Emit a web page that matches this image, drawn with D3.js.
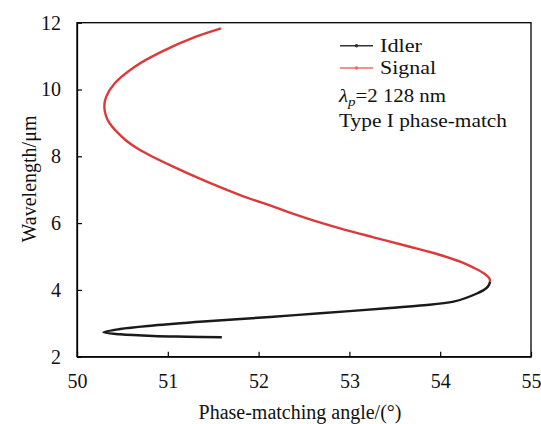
<!DOCTYPE html>
<html>
<head>
<meta charset="utf-8">
<script src="https://cdn.jsdelivr.net/npm/d3@7"></script>
<style>
  body { margin: 0; background: #fff; }
  svg text { font-family: "Liberation Serif", "Times New Roman", serif; }
</style>
</head>
<body>
<svg id="chart" width="541" height="424"></svg>
<script>
// Idler branch, from the degenerate point down to the short end
const idlerAngle = [54.550, 54.537, 54.510, 54.404, 54.147, 53.780, 53.413, 52.678, 52.127, 51.392, 50.841, 50.474, 50.290, 50.474, 50.841, 51.209, 51.595];
const idlerWave  = [4.256, 4.150, 4.057, 3.892, 3.647, 3.533, 3.449, 3.299, 3.189, 3.054, 2.934, 2.829, 2.731, 2.671, 2.620, 2.599, 2.581];

// Signal branch, from the degenerate point up to the long end
const signalAngle = [54.550, 54.540, 54.480, 54.367, 54.220, 54.000, 53.633, 53.265, 52.898, 52.531, 52.163, 51.796, 51.429, 51.059, 50.694, 50.534, 50.359, 50.320, 50.301, 50.320, 50.416, 50.637, 50.933, 51.310, 51.587];
const signalWave  = [4.256, 4.350, 4.497, 4.665, 4.844, 5.045, 5.314, 5.575, 5.844, 6.144, 6.491, 6.841, 7.240, 7.689, 8.189, 8.488, 8.988, 9.200, 9.485, 9.770, 10.186, 10.683, 11.132, 11.581, 11.832];

const xTicks = [50, 51, 52, 53, 54, 55];
const yTicks = [2, 4, 6, 8, 10, 12];

const margin = { top: 22.7, left: 77 };
const width = 531 - margin.left;
const height = 356.7 - margin.top;

const svg = d3.select("#chart");
const g = svg.append("g").attr("transform", `translate(${margin.left},${margin.top})`);

const x = d3.scaleLinear().domain([50, 55]).range([0, width]);
const y = d3.scaleLinear().domain([2, 12]).range([height, 0]);

// frame
g.append("rect")
    .attr("width", width).attr("height", height)
    .attr("fill", "none").attr("stroke", "#000").attr("stroke-width", 1.3);

// axes with inward ticks
const xAxis = g.append("g")
    .attr("transform", `translate(0,${height})`)
    .call(d3.axisBottom(x).tickValues(xTicks).tickFormat(d3.format("d"))
        .tickSizeInner(-5).tickSizeOuter(0).tickPadding(13));
const yAxis = g.append("g")
    .call(d3.axisLeft(y).tickValues(yTicks).tickFormat(d3.format("d"))
        .tickSizeInner(-5).tickSizeOuter(0).tickPadding(16));

[xAxis, yAxis].forEach(a => {
    a.attr("font-family", "Liberation Serif, serif").attr("font-size", 20);
    a.select(".domain").attr("stroke", "#000").attr("stroke-width", 1.3);
    a.selectAll(".tick line").attr("stroke", "#000").attr("stroke-width", 1.2);
    a.selectAll(".tick text").attr("fill", "#111");
});
xAxis.selectAll(".tick text").attr("dy", "0.9em");

// curves
const line = d3.line()
    .x(d => x(d[0]))
    .y(d => y(d[1]))
    .curve(d3.curveCatmullRom.alpha(0.5));

const idler = idlerAngle.map((a, i) => [a, idlerWave[i]]);
const signal = signalAngle.map((a, i) => [a, signalWave[i]]);

g.append("path").datum(idler)
    .attr("d", line)
    .attr("fill", "none").attr("stroke", "#1a1a1a").attr("stroke-width", 2.4);
g.append("path").datum(signal)
    .attr("d", line)
    .attr("fill", "none").attr("stroke", "#dc3a3a").attr("stroke-width", 2.4);

// legend
const legend = svg.append("g").style("font-size", "18px").attr("fill", "#111");
const items = [
    { name: "Idler", color: "#333", y: 45.7, w: 42 },
    { name: "Signal", color: "#ef6b6b", y: 68, w: 56 }
];
items.forEach(d => {
    legend.append("line")
        .attr("x1", 340).attr("x2", 373).attr("y1", d.y).attr("y2", d.y)
        .attr("stroke", d.color).attr("stroke-width", 1.6);
    legend.append("circle")
        .attr("cx", 356.5).attr("cy", d.y).attr("r", 1.8).attr("fill", d.color);
    legend.append("text").attr("x", 380).attr("y", d.y + 6)
        .attr("textLength", d.w).attr("lengthAdjust", "spacingAndGlyphs")
        .text(d.name);
});

const lp = legend.append("text").attr("x", 339).attr("y", 101.5)
    .attr("textLength", 107).attr("lengthAdjust", "spacingAndGlyphs");
lp.append("tspan").style("font-style", "italic").text("λ");
lp.append("tspan").style("font-style", "italic").style("font-size", "13px").attr("dy", 4).text("p");
lp.append("tspan").attr("dy", -4).text("=2 128 nm");

legend.append("text").attr("x", 339).attr("y", 127)
    .attr("textLength", 168).attr("lengthAdjust", "spacingAndGlyphs")
    .text("Type I phase-match");

// axis titles
svg.append("text")
    .attr("x", 300).attr("y", 419)
    .attr("text-anchor", "middle")
    .style("font-size", "20px").attr("fill", "#111")
    .text("Phase-matching angle/(°)");

svg.append("text")
    .attr("transform", "translate(36,179) rotate(-90)")
    .attr("text-anchor", "middle")
    .style("font-size", "20px").attr("fill", "#111")
    .text("Wavelength/μm");
</script>
</body>
</html>
